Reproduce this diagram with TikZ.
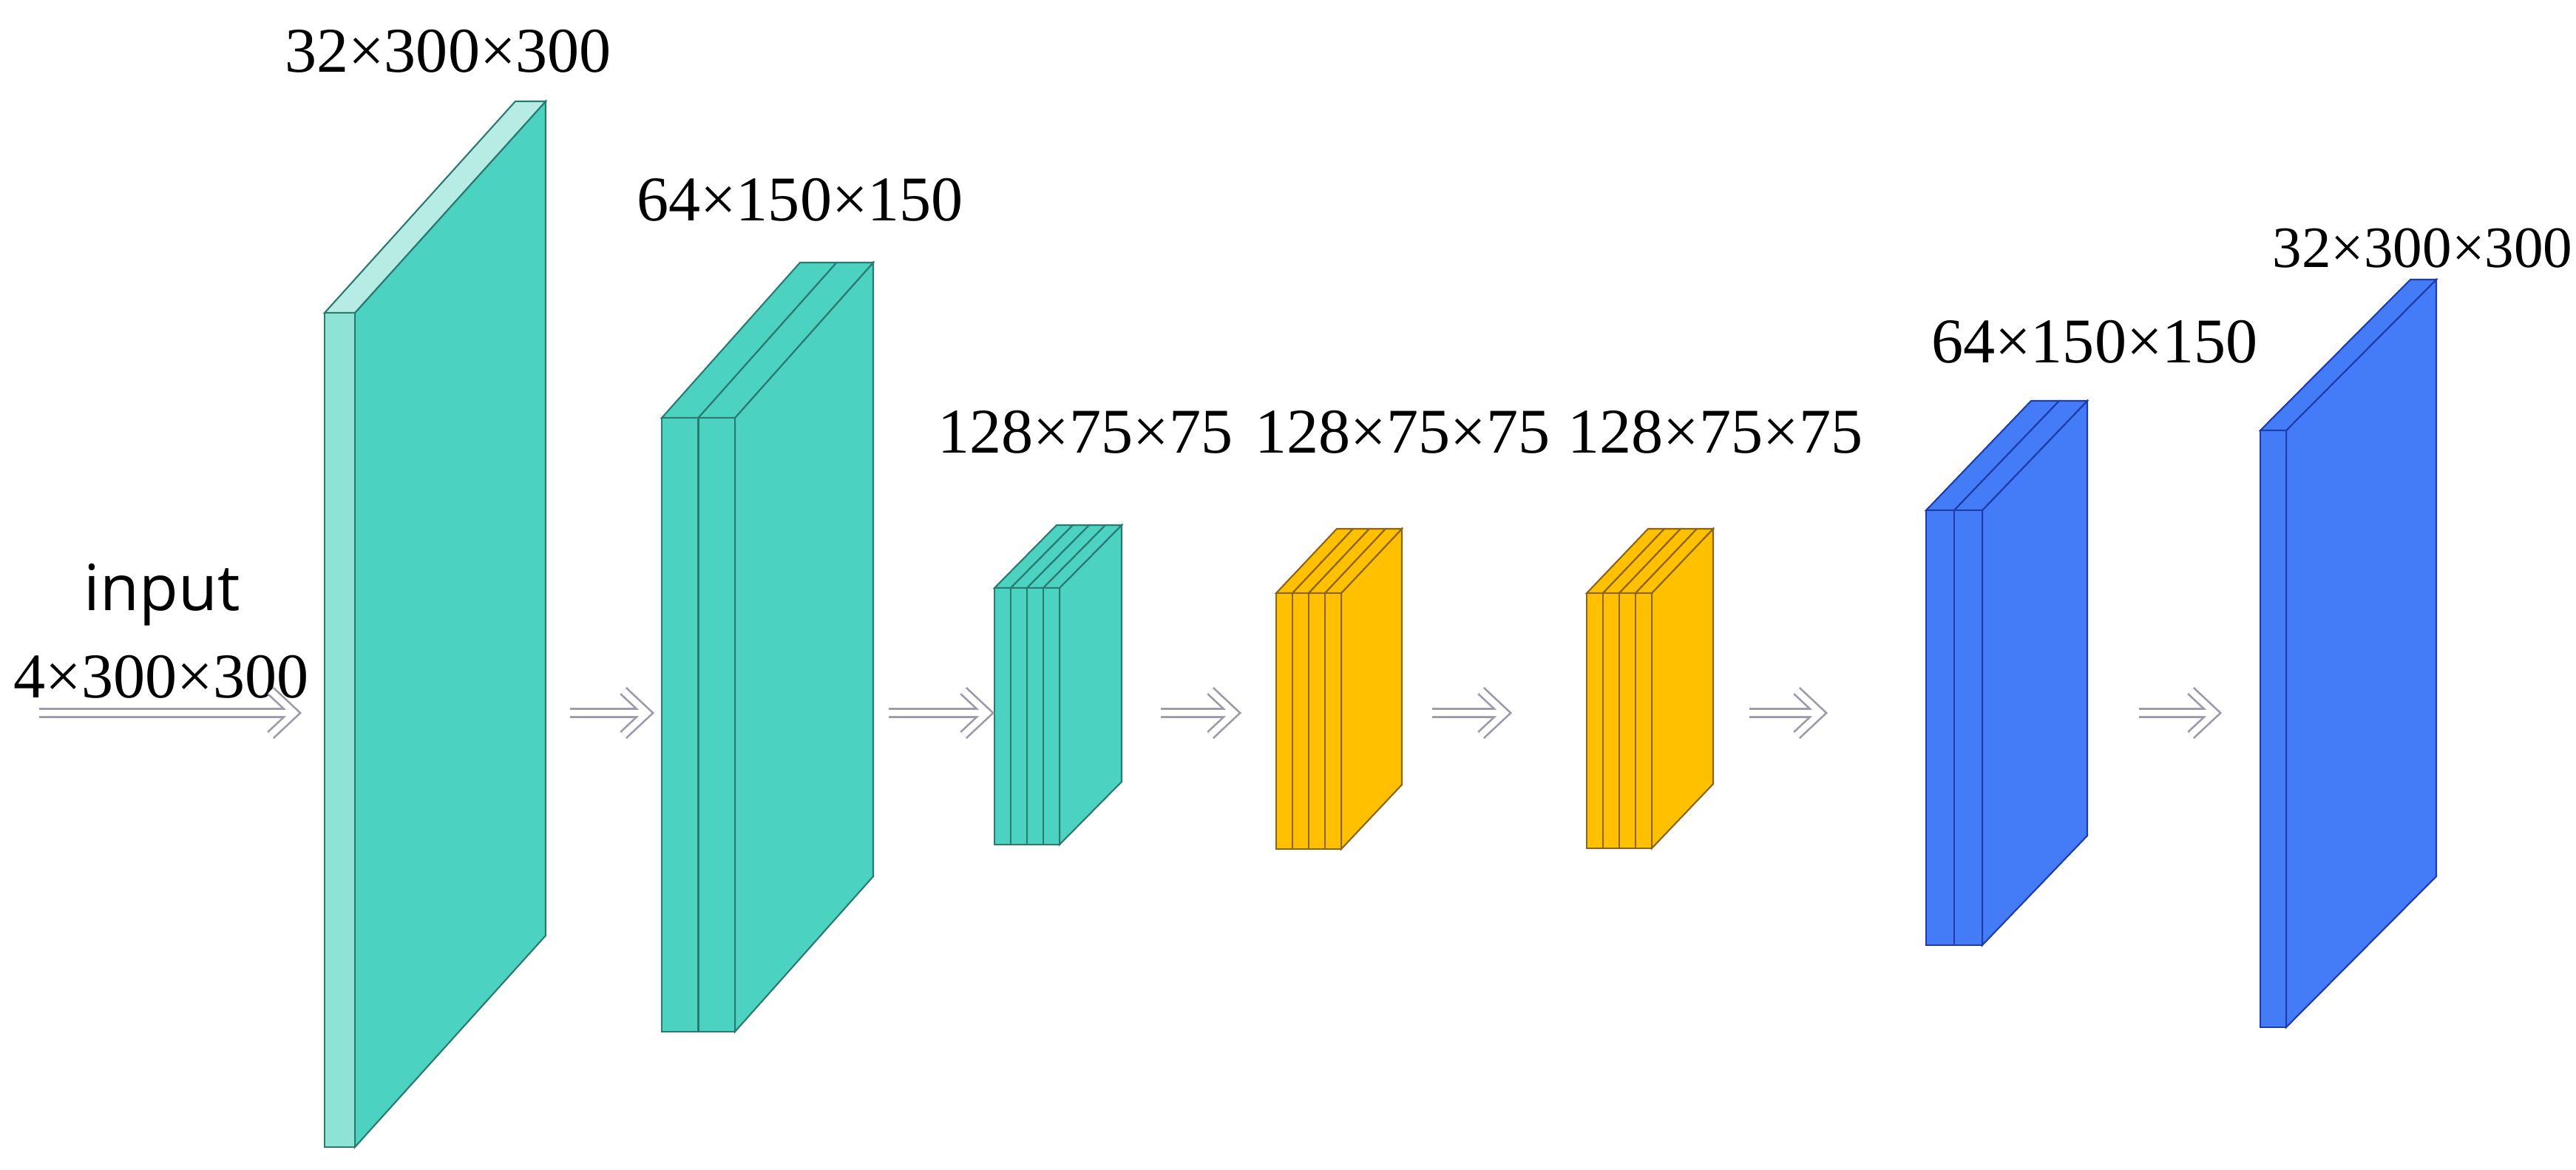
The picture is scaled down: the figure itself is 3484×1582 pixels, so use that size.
\documentclass[tikz,border=0pt]{standalone}
\usepackage{fontspec}
\setmainfont{Liberation Serif}
\newfontfamily\inputfont{Open Sans}
\usetikzlibrary{arrows}

\definecolor{convteal}{HTML}{4CD2C0}
\definecolor{convtealline}{HTML}{2A7A70}
\definecolor{firstfront}{HTML}{8FE2D6}
\definecolor{firsttop}{HTML}{B7ECE4}
\definecolor{midyellow}{HTML}{FFC000}
\definecolor{midyellowline}{HTML}{8C6414}
\definecolor{deconvblue}{HTML}{447BF7}
\definecolor{deconvblueline}{HTML}{1E3CAA}
\definecolor{arrowgray}{HTML}{9A9AAA}

\tikzset{
  first side/.style={fill=convteal,draw=convtealline,line width=0.6pt},
  first front/.style={fill=firstfront,draw=convtealline,line width=0.6pt},
  first top/.style={fill=firsttop,draw=convtealline,line width=0.6pt},
  conv side/.style={fill=convteal,draw=convtealline,line width=0.6pt},
  conv front/.style={conv side},
  conv top/.style={conv side},
  mid side/.style={fill=midyellow,draw=midyellowline,line width=0.6pt},
  mid front/.style={mid side},
  mid top/.style={mid side},
  deconv side/.style={fill=deconvblue,draw=deconvblueline,line width=0.6pt},
  deconv front/.style={deconv side},
  deconv top/.style={deconv side},
  dimlabel/.style={font=\fontsize{24.5}{29}\selectfont,anchor=base,inner sep=0pt},
  hollow/.style={draw=arrowgray,line width=0.75pt,double=white,double distance=2.4pt}
}

% feature map: front corner (#1,#2), height #3, #4 slices of width #5,
% depth (#6,#7), colour family #8
\newcommand{\fmap}[8]{%
  \draw[#8 side] ({#1+#4*#5},#2) -- ++(#6,-#7) -- ++(0,#3) -- ({#1+#4*#5},{#2+#3}) -- cycle;
  \foreach \i in {1,...,#4} {
    \draw[#8 top] ({#1+(\i-1)*#5},#2) -- ++(#6,-#7) -- ++(#5,0) -- ++(-#6,#7) -- cycle;
    \draw[#8 front] ({#1+(\i-1)*#5},#2) rectangle ++(#5,#3);
  }
}
% shaft and head in one path, so the double line merges
\newcommand{\hollowarrow}[2]{%
  \draw[hollow] (#1) -- ([shift={(-2,0)}]#2)
    ([shift={(-32,-30)}]#2) -- (#2) -- ([shift={(-32,30)}]#2);
}

\begin{document}
\begin{tikzpicture}[x=0.01cm,y=-0.01cm]
  \useasboundingbox (0,0) rectangle (3484,1582);

  % encoder
  \fmap{439}{423}{1128}{1}{41}{258}{286}{first}
  \fmap{895}{565}{830}{2}{49.5}{187}{210}{conv}
  \fmap{1345}{795}{347}{4}{22}{84}{85}{conv}
  % middle
  \fmap{1726}{802}{346}{4}{22}{82}{87}{mid}
  \fmap{2146}{802}{345}{4}{22}{83}{87}{mid}
  % decoder
  \fmap{2605}{690}{588}{2}{38}{142}{148}{deconv}
  \fmap{3057}{582}{807}{1}{35}{203}{204}{deconv}

  \node[dimlabel] (l1) at (606,98)   {32×300×300};
  \node[dimlabel] (l2) at (1082,298) {64×150×150};
  \node[dimlabel] (l3) at (1468,612) {128×75×75};
  \node[dimlabel] (l4) at (1897,612) {128×75×75};
  \node[dimlabel] (l5) at (2320,612) {128×75×75};
  \node[dimlabel] (l6) at (2833,490) {64×150×150};
  \node[dimlabel,anchor=base east,font=\fontsize{22.5}{27}\selectfont] (l7) at (3480,361) {32×300×300};
  \node[anchor=base,inner sep=0pt,font=\inputfont\fontsize{24.5}{29}\selectfont] (in) at (219,825) {input};
  \node[dimlabel] (insize) at (218,943) {4×300×300};

  \coordinate (a0s) at (53,964);   \coordinate (a0e) at (398,964);
  \coordinate (a1s) at (771,964);  \coordinate (a1e) at (875,964);
  \coordinate (a2s) at (1202,964); \coordinate (a2e) at (1335,964);
  \coordinate (a3s) at (1570,964); \coordinate (a3e) at (1669,964);
  \coordinate (a4s) at (1937,964); \coordinate (a4e) at (2035,964);
  \coordinate (a5s) at (2366,964); \coordinate (a5e) at (2462,964);
  \coordinate (a6s) at (2893,964); \coordinate (a6e) at (2995,964);
  \hollowarrow{a0s}{a0e}
  \hollowarrow{a1s}{a1e}
  \hollowarrow{a2s}{a2e}
  \hollowarrow{a3s}{a3e}
  \hollowarrow{a4s}{a4e}
  \hollowarrow{a5s}{a5e}
  \hollowarrow{a6s}{a6e}
\end{tikzpicture}
\end{document}
